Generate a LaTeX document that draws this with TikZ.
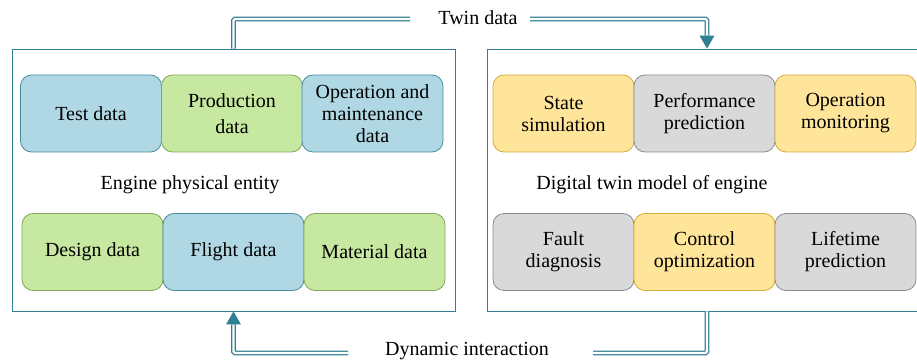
\documentclass[tikz,border=0pt]{standalone}
\usepackage{fontspec}
\setmainfont{Liberation Serif}
\usetikzlibrary{calc}
\definecolor{framec}{RGB}{48,128,148}
\definecolor{bluefill}{RGB}{175,216,228}
\definecolor{blueline}{RGB}{72,140,162}
\definecolor{greenfill}{RGB}{199,232,160}
\definecolor{greenline}{RGB}{128,168,88}
\definecolor{yellowfill}{RGB}{255,229,153}
\definecolor{yellowline}{RGB}{212,172,62}
\definecolor{grayfill}{RGB}{217,217,217}
\definecolor{grayline}{RGB}{140,140,140}
\begin{document}
\begin{tikzpicture}[x=1pt,y=-1pt,
  every node/.style={font=\fontsize{20}{22}\selectfont, inner sep=0pt},
  databox/.style={rounded corners=11pt, minimum width=141pt, minimum height=77pt, align=center, line width=0.8pt},
  bluebox/.style={databox, fill=bluefill, draw=blueline},
  greenbox/.style={databox, fill=greenfill, draw=greenline},
  yellowbox/.style={databox, fill=yellowfill, draw=yellowline},
  graybox/.style={databox, fill=grayfill, draw=grayline},
  framebox/.style={draw=framec, line width=0.9pt, minimum height=262pt},
  dbl/.style={draw=framec, line width=1.2pt, double=white, double distance=2.2pt, rounded corners=1.5pt},
  tip/.style={fill=framec}
]
\useasboundingbox (0,0) rectangle (917,363);
\clip (0,0) rectangle (917,363);
% frames
\node[framebox, minimum width=443pt] (lf) at (233.5,180) {};
\node[framebox, minimum width=440pt] (rf) at (707,180) {};
% left boxes
\node[bluebox]  (test) at (91,113.5) {Test data};
\node[greenbox] (prod) at (232,113.5) {Production\\[4pt]data};
\node[bluebox]  (oper) at (372.5,113.5) {Operation and\\maintenance\\data};
\node[greenbox] (design) at (92.5,252) {Design data};
\node[bluebox]  (flight) at (233.5,252) {Flight data};
\node[greenbox] (mat) at (374.5,252) {Material data};
\node (lbl1) at (190,185) {Engine physical entity};
% right boxes
\node[yellowbox] (state) at (563.5,113.5) {State\\simulation};
\node[graybox]   (perf) at (704.5,113.5) {Performance\\prediction};
\node[yellowbox] (mon) at (845.5,113.5) {Operation\\monitoring};
\node[graybox]   (fault) at (563.5,252) {Fault\\diagnosis};
\node[yellowbox] (ctrl) at (704.5,252) {Control\\optimization};
\node[graybox]   (life) at (845.5,252) {Lifetime\\prediction};
\node (lbl2) at (652,185) {Digital twin model of engine};
% top connector
\node (td) at (478,18) {Twin data};
\coordinate (tL) at (410,19);
\coordinate (tR) at (530,19);
\coordinate (tA) at ($(rf.north)+(0,-13)$);
\draw[dbl] (lf.north) |- (tL);
\draw[dbl] (tR) -| (tA);
\fill[tip] (rf.north) -- ++(-7.5,-13) -- ++(15,0) -- cycle;
% bottom connector
\node (di) at (467,351) {Dynamic interaction};
\coordinate (bR) at (593,353);
\coordinate (bL) at (348,353);
\coordinate (bA) at ($(lf.south)+(0,13)$);
\draw[dbl] (rf.south) |- (bR);
\draw[dbl] (bL) -| (bA);
\fill[tip] (lf.south) -- ++(-7.5,13) -- ++(15,0) -- cycle;
\end{tikzpicture}
\end{document}
